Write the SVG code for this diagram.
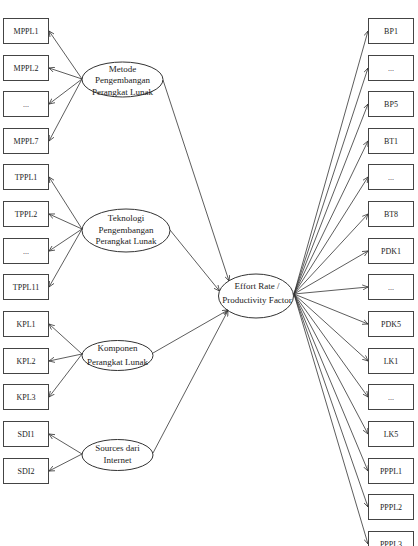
<svg xmlns="http://www.w3.org/2000/svg" width="418" height="546" viewBox="0 0 418 546">
<style>
.box{fill:#fff;stroke:#444;stroke-width:1}
.ell{fill:#fff;stroke:#333;stroke-width:1}
.bt{font-family:"Liberation Serif",serif;font-size:8px;fill:#222;text-anchor:middle}
.et{font-family:"Liberation Serif",serif;font-size:9px;fill:#222;text-anchor:middle}
.c line{stroke:#333;stroke-width:0.8;marker-end:url(#a)}
</style>
<defs>
<marker id="a" viewBox="0 0 8 8" refX="7.5" refY="4" markerWidth="6" markerHeight="6" markerUnits="userSpaceOnUse" orient="auto">
<path d="M0,0.5 L7.5,4 L0,7.5" fill="none" stroke="#333" stroke-width="1"/>
</marker>
</defs>
<rect width="418" height="546" fill="#fff"/>
<g id="metode"><ellipse class="ell" cx="122.5" cy="79.5" rx="40.5" ry="17.5"/>
<text class="et" x="122.5" y="71.5">Metode</text><text class="et" x="122.5" y="83">Pengembangan</text><text class="et" x="122.5" y="94.5">Perangkat Lunak</text></g>
<g id="teknologi"><ellipse class="ell" cx="126" cy="230.5" rx="44" ry="21.5"/>
<text class="et" x="126" y="221">Teknologi</text><text class="et" x="126" y="232.5">Pengembangan</text><text class="et" x="126" y="244">Perangkat Lunak</text></g>
<g id="komponen"><ellipse class="ell" cx="117.5" cy="355.5" rx="35.5" ry="15"/>
<text class="et" x="117.5" y="351">Komponen</text><text class="et" x="117.5" y="365">Perangkat Lunak</text></g>
<g id="sources"><ellipse class="ell" cx="117.5" cy="455" rx="35.5" ry="15.5"/>
<text class="et" x="117.5" y="451">Sources dari</text><text class="et" x="117.5" y="463">Internet</text></g>
<g id="effort"><ellipse class="ell" cx="256" cy="296" rx="37.5" ry="22"/>
<text class="et" x="257" y="289">Effort Rate /</text><text class="et" x="257" y="303">Productivity Factor</text></g>
<g class="c" id="connectors">
<line x1="82" y1="79" x2="49" y2="31"/>
<line x1="82" y1="79" x2="49" y2="68"/>
<line x1="82" y1="79" x2="49" y2="104"/>
<line x1="82" y1="79" x2="49" y2="141"/>
<line x1="82" y1="229" x2="49" y2="177"/>
<line x1="82" y1="229" x2="49" y2="214"/>
<line x1="82" y1="229" x2="49" y2="251"/>
<line x1="82" y1="229" x2="49" y2="287"/>
<line x1="82" y1="354" x2="49" y2="324"/>
<line x1="82" y1="354" x2="49" y2="361"/>
<line x1="82" y1="354" x2="49" y2="397"/>
<line x1="82" y1="454" x2="49" y2="434"/>
<line x1="82" y1="454" x2="49" y2="471"/>
<line x1="163" y1="80" x2="229" y2="281"/>
<line x1="170" y1="230" x2="219.5" y2="291"/>
<line x1="153" y1="353" x2="228" y2="310"/>
<line x1="153" y1="453" x2="228" y2="310.5"/>
<line x1="294" y1="294" x2="368" y2="31"/>
<line x1="294" y1="294" x2="368" y2="68"/>
<line x1="294" y1="294" x2="368" y2="104"/>
<line x1="294" y1="294" x2="368" y2="141"/>
<line x1="294" y1="294" x2="368" y2="177"/>
<line x1="294" y1="294" x2="368" y2="214"/>
<line x1="294" y1="294" x2="368" y2="251"/>
<line x1="294" y1="294" x2="368" y2="287"/>
<line x1="294" y1="294" x2="368" y2="324"/>
<line x1="294" y1="294" x2="368" y2="361"/>
<line x1="294" y1="294" x2="368" y2="397"/>
<line x1="294" y1="294" x2="368" y2="434"/>
<line x1="294" y1="294" x2="368" y2="471"/>
<line x1="294" y1="294" x2="368" y2="507"/>
<line x1="294" y1="294" x2="368" y2="544"/>
</g>
<g id="left-boxes">
<g id="MPPL1"><rect class="box" x="3.5" y="18.5" width="45" height="25"/><text class="bt" x="26" y="33.5">MPPL1</text></g>
<g id="MPPL2"><rect class="box" x="3.5" y="55.5" width="45" height="25"/><text class="bt" x="26" y="70.5">MPPL2</text></g>
<g id="MPPLx"><rect class="box" x="3.5" y="91.5" width="45" height="25"/><text class="bt" x="26" y="106.5">...</text></g>
<g id="MPPL7"><rect class="box" x="3.5" y="128.5" width="45" height="25"/><text class="bt" x="26" y="143.5">MPPL7</text></g>
<g id="TPPL1"><rect class="box" x="3.5" y="164.5" width="45" height="25"/><text class="bt" x="26" y="179.5">TPPL1</text></g>
<g id="TPPL2"><rect class="box" x="3.5" y="201.5" width="45" height="25"/><text class="bt" x="26" y="216.5">TPPL2</text></g>
<g id="TPPLx"><rect class="box" x="3.5" y="238.5" width="45" height="25"/><text class="bt" x="26" y="253.5">...</text></g>
<g id="TPPL11"><rect class="box" x="3.5" y="274.5" width="45" height="25"/><text class="bt" x="26" y="289.5">TPPL11</text></g>
<g id="KPL1"><rect class="box" x="3.5" y="311.5" width="45" height="25"/><text class="bt" x="26" y="326.5">KPL1</text></g>
<g id="KPL2"><rect class="box" x="3.5" y="348.5" width="45" height="25"/><text class="bt" x="26" y="363.5">KPL2</text></g>
<g id="KPL3"><rect class="box" x="3.5" y="384.5" width="45" height="25"/><text class="bt" x="26" y="399.5">KPL3</text></g>
<g id="SDI1"><rect class="box" x="3.5" y="421.5" width="45" height="25"/><text class="bt" x="26" y="436.5">SDI1</text></g>
<g id="SDI2"><rect class="box" x="3.5" y="458.5" width="45" height="25"/><text class="bt" x="26" y="473.5">SDI2</text></g>
</g>
<g id="right-boxes">
<g id="BP1"><rect class="box" x="368.5" y="18.5" width="45" height="25"/><text class="bt" x="391" y="33.5">BP1</text></g>
<g id="BPx"><rect class="box" x="368.5" y="55.5" width="45" height="25"/><text class="bt" x="391" y="70.5">...</text></g>
<g id="BP5"><rect class="box" x="368.5" y="91.5" width="45" height="25"/><text class="bt" x="391" y="106.5">BP5</text></g>
<g id="BT1"><rect class="box" x="368.5" y="128.5" width="45" height="25"/><text class="bt" x="391" y="143.5">BT1</text></g>
<g id="BTx"><rect class="box" x="368.5" y="164.5" width="45" height="25"/><text class="bt" x="391" y="179.5">...</text></g>
<g id="BT8"><rect class="box" x="368.5" y="201.5" width="45" height="25"/><text class="bt" x="391" y="216.5">BT8</text></g>
<g id="PDK1"><rect class="box" x="368.5" y="238.5" width="45" height="25"/><text class="bt" x="391" y="253.5">PDK1</text></g>
<g id="PDKx"><rect class="box" x="368.5" y="274.5" width="45" height="25"/><text class="bt" x="391" y="289.5">...</text></g>
<g id="PDK5"><rect class="box" x="368.5" y="311.5" width="45" height="25"/><text class="bt" x="391" y="326.5">PDK5</text></g>
<g id="LK1"><rect class="box" x="368.5" y="348.5" width="45" height="25"/><text class="bt" x="391" y="363.5">LK1</text></g>
<g id="LKx"><rect class="box" x="368.5" y="384.5" width="45" height="25"/><text class="bt" x="391" y="399.5">...</text></g>
<g id="LK5"><rect class="box" x="368.5" y="421.5" width="45" height="25"/><text class="bt" x="391" y="436.5">LK5</text></g>
<g id="PPPL1"><rect class="box" x="368.5" y="458.5" width="45" height="25"/><text class="bt" x="391" y="473.5">PPPL1</text></g>
<g id="PPPL2"><rect class="box" x="368.5" y="494.5" width="45" height="25"/><text class="bt" x="391" y="509.5">PPPL2</text></g>
<g id="PPPL3"><rect class="box" x="368.5" y="531.5" width="45" height="25"/><text class="bt" x="391" y="546.5">PPPL3</text></g>
</g>
</svg>
